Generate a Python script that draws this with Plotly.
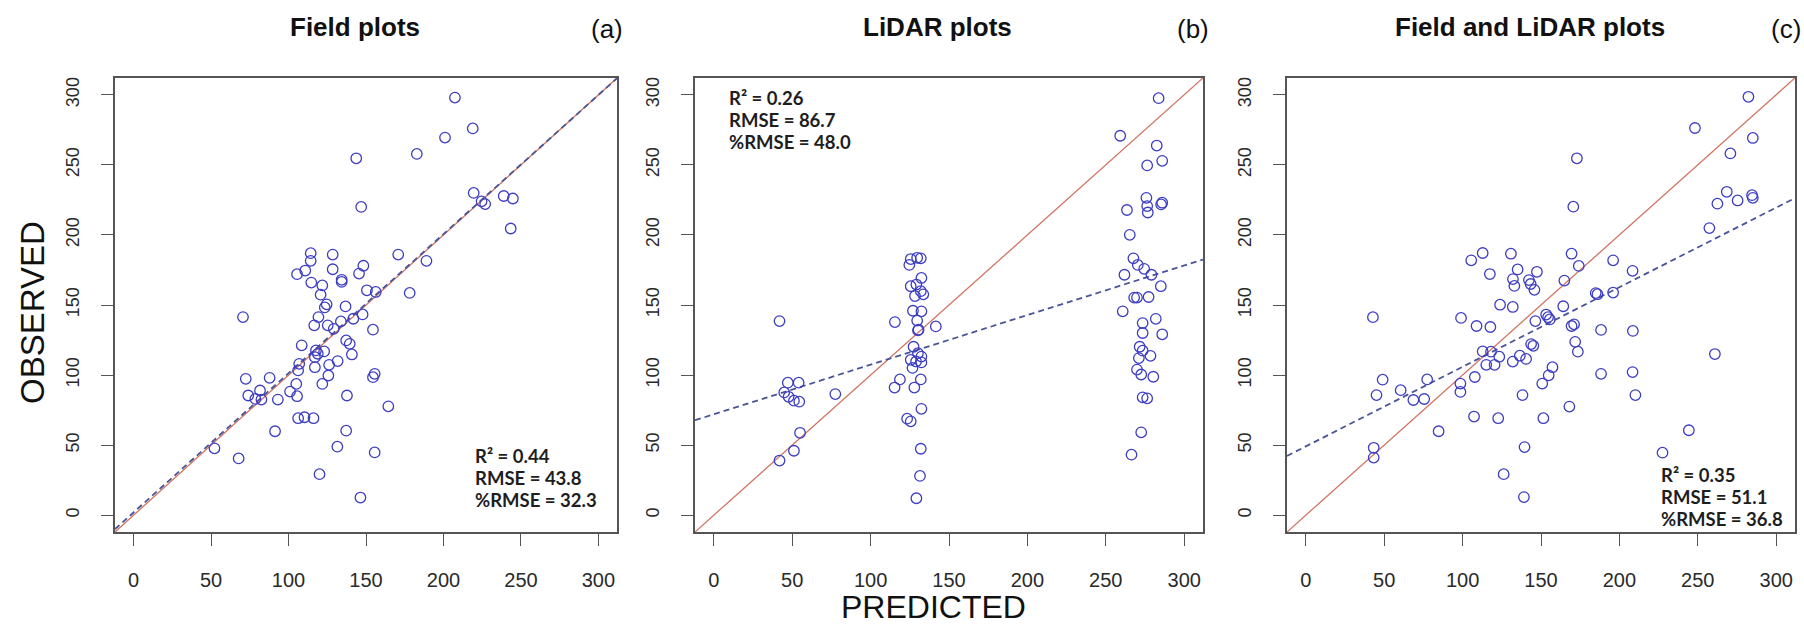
import plotly.graph_objects as go

# ---------------- data ----------------
field_pred = [207.4, 218.9, 201.0, 182.8, 143.7, 219.5, 226.9, 224.6, 238.9, 244.8,
              243.4, 146.9, 114.3, 128.5, 170.8, 114.3, 189.0, 110.8, 105.5, 128.5,
              148.3, 145.5, 134.3, 134.3, 114.7, 121.8, 120.7, 150.6, 156.3, 178.2,
              124.6, 123.4, 136.8, 119.3, 70.6, 141.8, 147.8, 116.6, 125.3, 129.2,
              133.8, 154.5, 108.5, 137.2, 139.5, 140.9, 117.7, 118.9, 123.0, 117.0,
              131.7, 106.9, 126.2, 117.0, 106.2, 155.6, 154.5, 125.7, 72.4, 87.8,
              121.8, 105.0, 81.6, 101.0, 74.0, 78.6, 82.5, 93.1, 105.5, 137.7,
              164.4, 106.2, 110.3, 116.1, 91.3, 137.2, 131.5, 52.2, 155.6, 67.8,
              120.0, 146.4]
field_obs = [298.0, 276.0, 269.5, 257.8, 254.7, 230.0, 222.0, 224.0, 227.8, 226.0,
             204.6, 220.0, 187.0, 186.0, 186.0, 181.5, 181.5, 174.6, 172.0, 175.5,
             178.0, 172.4, 168.0, 166.5, 166.0, 164.0, 157.4, 160.5, 159.3, 158.6,
             150.5, 148.3, 149.0, 141.4, 141.4, 140.2, 143.3, 135.5, 135.5, 133.0,
             138.3, 132.4, 121.2, 124.7, 122.3, 114.7, 117.6, 115.2, 116.9, 112.8,
             110.0, 108.0, 107.3, 105.6, 103.3, 100.9, 98.5, 99.7, 97.3, 98.0,
             93.7, 93.7, 89.0, 88.2, 85.4, 83.0, 82.5, 82.5, 84.9, 85.4,
             77.7, 69.2, 69.9, 69.2, 59.9, 60.3, 48.9, 47.7, 44.8, 40.5,
             29.3, 12.6]

lidar_pred = [41.9, 47.2, 54.1, 44.9, 47.7, 51.1, 54.5, 77.5, 55.0, 51.1,
              41.9, 115.5, 141.6, 124.7, 129.7, 132.0, 125.6, 129.2, 132.4, 132.0,
              133.6, 127.0, 132.4, 129.7, 130.6, 130.2, 127.4, 130.2, 132.4, 125.6,
              132.4, 129.0, 126.7, 118.7, 115.3, 127.9, 132.0, 123.3, 125.6, 132.4,
              132.0, 131.5, 129.2, 128.3, 125.6, 259.2, 283.7, 282.5, 286.0, 276.4,
              275.9, 276.4, 276.8, 286.0, 285.3, 263.5, 265.3, 267.6, 270.4, 274.5,
              279.1, 261.9, 285.1, 268.1, 269.9, 277.3, 260.8, 273.5, 281.9, 273.5,
              286.0, 271.6, 273.5, 278.5, 271.1, 269.9, 272.6, 280.3, 273.5, 276.4,
              272.6, 266.4]
lidar_obs = [138.5, 94.6, 94.6, 87.6, 84.5, 81.7, 81.0, 86.4, 58.8, 46.0,
             39.0, 137.8, 134.7, 178.6, 183.7, 183.3, 163.4, 164.6, 169.3, 159.9,
             157.6, 145.9, 145.5, 138.9, 132.4, 131.9, 120.2, 115.6, 113.2, 110.9,
             109.0, 109.7, 105.1, 96.9, 91.1, 91.1, 96.9, 68.9, 67.0, 75.9,
             47.4, 28.0, 12.1, 156.4, 182.8, 270.8, 297.6, 263.8, 252.9, 249.6,
             226.5, 220.6, 216.0, 223.0, 221.8, 217.8, 200.1, 183.3, 178.6, 175.8,
             171.6, 171.6, 163.4, 155.3, 155.3, 155.7, 145.5, 137.1, 140.1, 130.0,
             129.1, 120.2, 117.4, 113.7, 112.1, 103.9, 100.4, 98.8, 84.1, 83.4,
             59.1, 43.2]

both_pred = [282.3, 248.2, 285.1, 270.8, 172.9, 268.5, 275.4, 284.6, 285.1, 262.5,
             257.4, 170.6, 105.5, 112.8, 130.8, 169.5, 174.1, 196.0, 208.4, 117.4,
             135.1, 147.4, 132.1, 133.0, 142.3, 143.4, 145.8, 164.9, 184.9, 186.0,
             196.0, 123.9, 132.0, 164.2, 42.8, 99.0, 146.4, 153.3, 154.5, 155.6,
             169.5, 171.1, 108.9, 117.7, 188.3, 208.6, 171.8, 173.5, 143.7, 145.1,
             112.8, 118.1, 123.4, 136.5, 132.0, 140.5, 115.1, 120.4, 260.9, 157.3,
             154.9, 150.8, 188.3, 208.4, 107.8, 98.6, 98.6, 49.0, 45.1, 77.4,
             60.5, 68.6, 75.5, 138.2, 210.2, 168.1, 107.3, 122.7, 151.5, 84.7,
             244.3, 139.5, 43.3, 227.5, 43.3, 126.2, 139.1]
both_obs = [298.6, 276.3, 269.2, 258.2, 254.7, 230.8, 224.6, 228.4, 226.5, 222.3,
            204.9, 220.2, 181.9, 187.1, 186.6, 186.6, 177.9, 181.9, 174.4, 172.1,
            175.4, 173.7, 168.5, 163.6, 167.8, 165.0, 160.8, 167.4, 158.5, 157.7,
            158.9, 150.2, 148.6, 149.1, 141.3, 140.8, 138.5, 143.2, 141.3, 139.7,
            135.0, 136.2, 135.0, 134.3, 132.2, 131.5, 123.7, 116.7, 122.1, 120.9,
            116.9, 116.7, 113.1, 113.8, 109.6, 111.5, 107.3, 107.3, 115.0, 105.6,
            99.8, 93.9, 100.9, 102.1, 98.6, 93.9, 88.0, 96.7, 85.7, 96.9,
            89.2, 82.2, 82.9, 85.7, 85.7, 77.5, 70.4, 69.2, 69.2, 59.9,
            60.6, 48.6, 48.1, 44.6, 41.1, 29.3, 12.9]

# fitted regression lines (intercept, slope)
fit_field = (2.0, 0.993)
fit_lidar = (72.0, 0.354)
fit_both = (49.1, 0.568)

titles = ["Field plots", "LiDAR plots", "Field and LiDAR plots"]
panel_tags = ["(a)", "(b)", "(c)"]
stats_text = [
    ["R\u00b2 = 0.44", "RMSE = 43.8", "%RMSE = 32.3"],
    ["R\u00b2 = 0.26", "RMSE = 86.7", "%RMSE = 48.0"],
    ["R\u00b2 = 0.35", "RMSE = 51.1", "%RMSE = 36.8"],
]
tick_vals = [0, 50, 100, 150, 200, 250, 300]
axis_range = [-12, 312]
x_title = "PREDICTED"
y_title = "OBSERVED"

# ---------------- figure ----------------
W, H = 1804, 627
panels = [
    (field_pred, field_obs, fit_field),
    (lidar_pred, lidar_obs, fit_lidar),
    (both_pred, both_obs, fit_both),
]
x_domains = [[115 / W, 617 / W], [695 / W, 1203 / W], [1287 / W, 1795 / W]]
y_domain = [1 - 532 / H, 1 - 78 / H]

# stats label placement (data units of each panel): left x, first-line y, line step
stats_pos = [(219, 42.5, -16.0), (8.5, 298.0, -16.0), (225.5, 28.5, -15.6)]
title_x = [355, 937, 1530]
tag_x = [607, 1193, 1786]

point_color = "#3d3dc4"
red_color = "#d27462"
dash_color = "#4a5598"
frame_color = "#555555"
tick_family = "Liberation Sans, Arial, sans-serif"

fig = go.Figure()
annotations = []
layout_axes = {}

for i, (px, py, fit) in enumerate(panels):
    n = "" if i == 0 else str(i + 1)
    xa, ya = "x" + n, "y" + n
    # 1:1 line
    fig.add_trace(go.Scatter(x=axis_range, y=axis_range, mode="lines",
                             line=dict(color=red_color, width=1.3),
                             xaxis=xa, yaxis=ya, showlegend=False, hoverinfo="skip"))
    # regression line
    a, b = fit
    fig.add_trace(go.Scatter(x=axis_range, y=[a + b * v for v in axis_range], mode="lines",
                             line=dict(color=dash_color, width=1.8, dash="6px,4px"),
                             xaxis=xa, yaxis=ya, showlegend=False, hoverinfo="skip"))
    # points
    fig.add_trace(go.Scatter(x=px, y=py, mode="markers",
                             marker=dict(symbol="circle-open", size=10.5,
                                         color=point_color, line=dict(width=1.3, color=point_color)),
                             xaxis=xa, yaxis=ya, showlegend=False))
    common = dict(range=axis_range, tickvals=tick_vals, showgrid=False, zeroline=False,
                  showline=True, mirror=True, linecolor=frame_color, linewidth=1.7,
                  ticks="outside", ticklen=12, tickwidth=1.2, tickcolor=frame_color)
    layout_axes["xaxis" + n] = dict(common, domain=x_domains[i], anchor=ya,
                                    tickfont=dict(family=tick_family, color="#2a2a2a", size=20),
                                    ticklabelstandoff=17)
    layout_axes["yaxis" + n] = dict(common, domain=y_domain, anchor=xa, tickangle=-90,
                                    tickfont=dict(family=tick_family, color="#2a2a2a", size=18),
                                    ticklabelstandoff=15)
    # stats text
    sx, sy, step = stats_pos[i]
    for k, line in enumerate(stats_text[i]):
        annotations.append(dict(x=sx, y=sy + k * step, xref=xa, yref=ya, text=line,
                                showarrow=False, xanchor="left", yanchor="middle",
                                font=dict(family="Lato, Open Sans, sans-serif", size=18.5,
                                          color="#1e1e1e", weight="bold")))
    # title and tag
    annotations.append(dict(x=title_x[i] / W, y=1 - 27 / H, xref="paper", yref="paper",
                            text="<b>" + titles[i] + "</b>", showarrow=False,
                            xanchor="center", yanchor="middle",
                            font=dict(family=tick_family, size=26, color="#111")))
    annotations.append(dict(x=tag_x[i] / W, y=1 - 29 / H, xref="paper", yref="paper",
                            text=panel_tags[i], showarrow=False,
                            xanchor="center", yanchor="middle",
                            font=dict(family=tick_family, size=26, color="#111")))

annotations.append(dict(x=32 / W, y=1 - 313 / H, xref="paper", yref="paper", text=y_title,
                        textangle=-90, showarrow=False, xanchor="center", yanchor="middle",
                        font=dict(family=tick_family, size=33, color="#111")))
annotations.append(dict(x=933 / W, y=0, xref="paper", yref="paper", text=x_title,
                        showarrow=False, xanchor="center", yanchor="bottom",
                        font=dict(family=tick_family, size=32, color="#111")))

fig.update_layout(width=W, height=H, margin=dict(l=0, r=0, t=0, b=0),
                  paper_bgcolor="white", plot_bgcolor="white",
                  annotations=annotations, **layout_axes)

fig.write_html("out.html")
